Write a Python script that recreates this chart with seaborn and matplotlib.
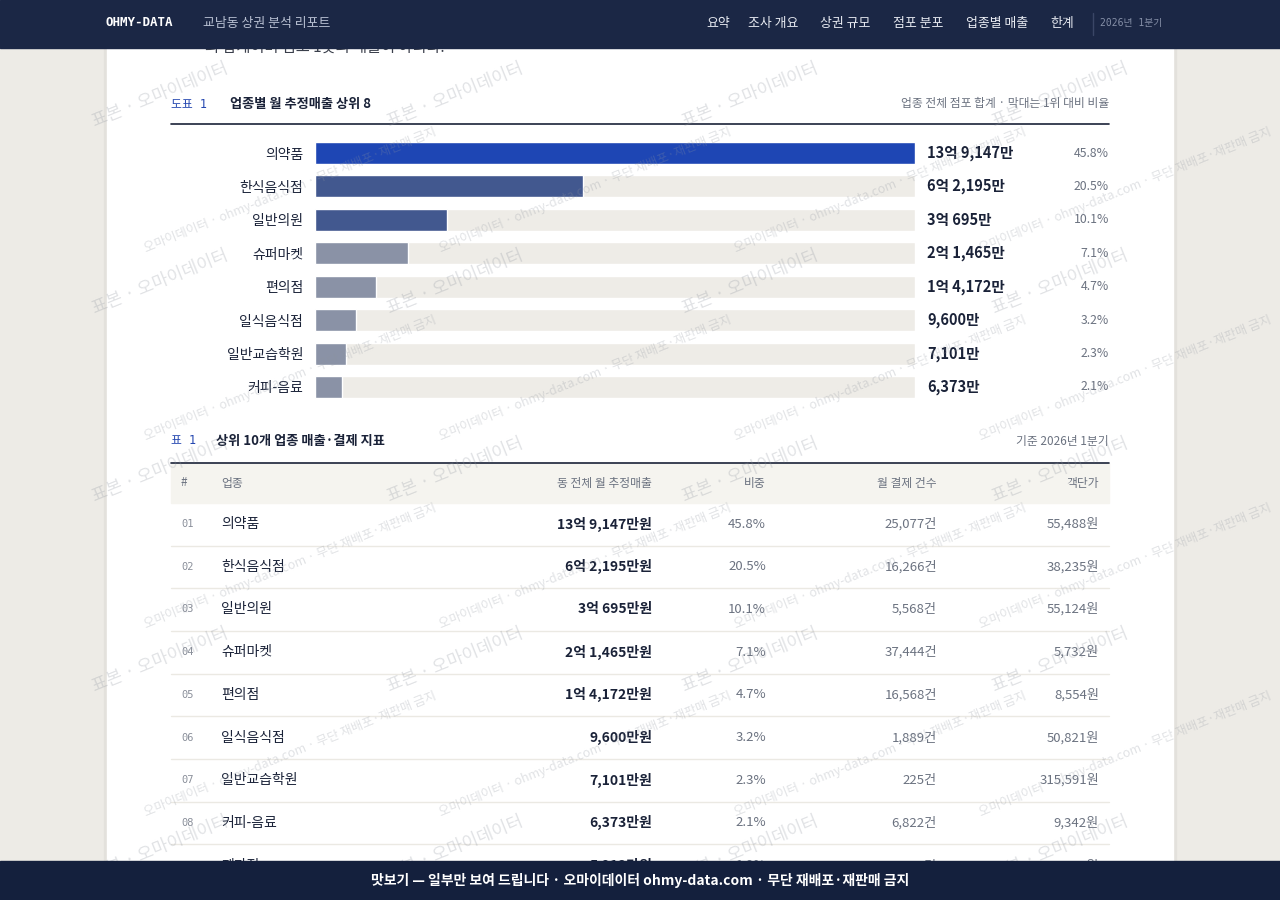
import matplotlib
matplotlib.use("Agg")
import matplotlib.pyplot as plt
import matplotlib.transforms as mtransforms
from matplotlib.patches import Rectangle
import seaborn as sns
import pandas as pd

# ---- data ----
categories = ["의약품", "한식음식점", "일반의원", "슈퍼마켓", "편의점", "일식음식점", "일반교습학원", "커피-음료"]
sales_manwon = [139147, 62195, 30695, 21465, 14172, 9600, 7101, 6373]
shares = [45.8, 20.5, 10.1, 7.1, 4.7, 3.2, 2.3, 2.1]

table_names = categories + ["제과점"]
table_sales = sales_manwon + [5912]
table_shares = shares + [1.9]
table_counts = [25077, 16266, 5568, 37444, 16568, 1889, 225, 6822, 4120]
table_prices = [55488, 38235, 55124, 5732, 8554, 50821, 315591, 9342, 14350]

nav_items = ["요약", "조사 개요", "상권 규모", "점포 분포", "업종별 매출", "한계"]
table_cols = ["#", "업종", "동 전체 월 추정매출", "비중", "월 결제 건수", "객단가"]

# ---- style ----
NAVY = "#1b2745"
FOOT = "#14203d"
INK = "#1a2238"
GREY = "#6b7280"
BLUE = "#2447b0"
TRACK = "#eeece7"
bar_colors = ["#1e46b4", "#42588f", "#42588f", "#8a92a6", "#8a92a6", "#8a92a6", "#8a92a6", "#8a92a6"]

sns.set_theme(style="white")
KR = ["Noto Sans CJK KR", "DejaVu Sans"]
MONO = ["DejaVu Sans Mono", "Noto Sans CJK KR"]
plt.rcParams["font.family"] = KR


def won(v, unit="만"):
    eok, man = divmod(v, 10000)
    if eok:
        return f"{eok}억 {man:,}{unit}"
    return f"{man:,}{unit}"


fig = plt.figure(figsize=(12.8, 9), dpi=100)

# background / page layer in pixel coordinates
bg = fig.add_axes([0, 0, 1, 1], zorder=0)
bg.set_xlim(0, 1280)
bg.set_ylim(900, 0)
bg.axis("off")
bg.add_patch(Rectangle((0, 0), 1280, 900, color="#edebe6", zorder=0))
bg.add_patch(Rectangle((104, 0), 1072, 900, color="#e3e1dc", zorder=0.5))
bg.add_patch(Rectangle((107, 0), 1066, 900, color="white", zorder=1))


def T(x, y, s, **kw):
    kw.setdefault("va", "center")
    kw.setdefault("color", INK)
    return bg.text(x, y, s, zorder=3, **kw)


# cut-off intro text under the nav bar
T(205, 47, "의 합계이며 점포 1곳의 매출이 아니다.", fontsize=11, color="#3a3f4b")

# chart header
T(171, 104, "도표 1", fontsize=8.5, color=BLUE, family=MONO)
T(230, 104, "업종별 월 추정매출 상위 8", fontsize=9.5, fontweight="bold")
T(1109, 104, "업종 전체 점포 합계 · 막대는 1위 대비 비율", fontsize=8.5, color=GREY, ha="right")
bg.plot([171, 1109], [123.5, 123.5], color=INK, lw=1.2, zorder=2)

# ---- bar chart ----
top_px, bot_px = 136.3, 403.7
ax = fig.add_axes([315 / 1280, 1 - bot_px / 900, 600 / 1280, (bot_px - top_px) / 900], zorder=1)
ax.patch.set_alpha(0)
df = pd.DataFrame({"업종": categories, "매출": sales_manwon, "track": [max(sales_manwon)] * len(categories)})
sns.barplot(data=df, x="track", y="업종", color=TRACK, width=0.66, saturation=1, ax=ax, orient="h")
sns.barplot(data=df, x="매출", y="업종", hue="업종", palette=bar_colors, width=0.66,
            saturation=1, legend=False, ax=ax, orient="h")
ax.set_xlim(0, max(sales_manwon))
ax.set_ylim(len(categories) - 0.5, -0.5)
ax.set_xlabel("")
ax.set_ylabel("")
ax.set_xticks([])
sns.despine(ax=ax, left=True, bottom=True)
ax.tick_params(axis="y", length=0, pad=8.6)
for lbl in ax.get_yticklabels():
    lbl.set_fontsize(10)
    lbl.set_color(INK)
    lbl.set_fontweight("medium")

tr = mtransforms.blended_transform_factory(ax.transAxes, ax.transData)
for i, (v, s) in enumerate(zip(sales_manwon, shares)):
    ax.text(1.02, i, won(v), transform=tr, va="center", ha="left", fontsize=10.5,
            fontweight="bold", color=INK, clip_on=False)
    ax.text(1.3233, i, f"{s}%", transform=tr, va="center", ha="right", fontsize=8.8,
            color=GREY, clip_on=False)

# ---- table ----
T(171, 441, "표 1", fontsize=8.5, color=BLUE, family=MONO)
T(216, 441, "상위 10개 업종 매출·결제 지표", fontsize=9.5, fontweight="bold")
T(1109, 441, "기준 2026년 1분기", fontsize=8.5, color=GREY, ha="right")
bg.plot([171, 1109], [462.5, 462.5], color=INK, lw=1.2, zorder=2)
bg.add_patch(Rectangle((171, 463), 938, 40, color="#f5f4ef", zorder=1.5))

col_x = [181, 221, 652, 766, 937, 1099]
col_ha = ["left", "left", "right", "right", "right", "right"]
for x, ha, c in zip(col_x, col_ha, table_cols):
    T(x, 483, c, fontsize=8.5, color=GREY, ha=ha)

row0, row_h = 524, 42.71
for i, name in enumerate(table_names):
    y = row0 + i * row_h
    T(181, y, f"{i + 1:02d}", fontsize=7.5, color="#8a8f9a", family=MONO)
    T(221, y, name, fontsize=10, fontweight="medium")
    T(652, y, won(table_sales[i], "만원"), fontsize=10, fontweight="bold", ha="right")
    T(766, y, f"{table_shares[i]}%", fontsize=9.5, color=GREY, ha="right")
    T(937, y, f"{table_counts[i]:,}건", fontsize=9.5, color=GREY, ha="right")
    T(1099, y, f"{table_prices[i]:,}원", fontsize=9.5, color=GREY, ha="right")
    bg.plot([171, 1109], [y + 21.5, y + 21.5], color="#ebe9e3", lw=1, zorder=2)

# ---- overlay: watermarks, nav bar, footer ----
ov = fig.add_axes([0, 0, 1, 1], zorder=3)
ov.set_xlim(0, 1280)
ov.set_ylim(900, 0)
ov.axis("off")
ov.patch.set_alpha(0)

for yy in [95, 282, 470, 660, 848]:
    for xx in [160, 455, 750, 1060]:
        ov.text(xx, yy, "표본 · 오마이데이터", fontsize=12.5, color="#8f959f", alpha=0.27,
                rotation=22, ha="center", va="center", zorder=1)
for yy in [190, 378, 566, 754]:
    for xx in [290, 585, 880, 1125]:
        ov.text(xx, yy, "오마이데이터 · ohmy-data.com · 무단 재배포·재판매 금지", fontsize=9,
                color="#8f959f", alpha=0.27, rotation=22, ha="center", va="center", zorder=1)

ov.add_patch(Rectangle((0, 0), 1280, 48, color=NAVY, zorder=5))
ov.text(105, 23, "OHMY-DATA", fontsize=9, fontweight="bold", color="white", family=MONO,
        va="center", zorder=6)
ov.text(203, 23, "교남동 상권 분석 리포트", fontsize=9.3, color="#b8c0d2", va="center", zorder=6)
nav_x = [706, 748, 820, 893, 966, 1050]
for x, s in zip(nav_x, nav_items):
    ov.text(x, 23, s, fontsize=9.3, color="#e8ebf2", va="center", zorder=6)
ov.plot([1093, 1093], [13, 35], color="#3a4666", lw=1, zorder=6)
ov.text(1100, 23, "2026년 1분기", fontsize=7, color="#8690a8", family=MONO, va="center", zorder=6)

ov.add_patch(Rectangle((0, 861), 1280, 39, color=FOOT, zorder=5))
ov.text(640, 880, "맛보기 — 일부만 보여 드립니다 · 오마이데이터 ohmy-data.com · 무단 재배포·재판매 금지",
        fontsize=10, fontweight="bold", color="white", ha="center", va="center", zorder=6)

fig.savefig("out.png", dpi=100)
